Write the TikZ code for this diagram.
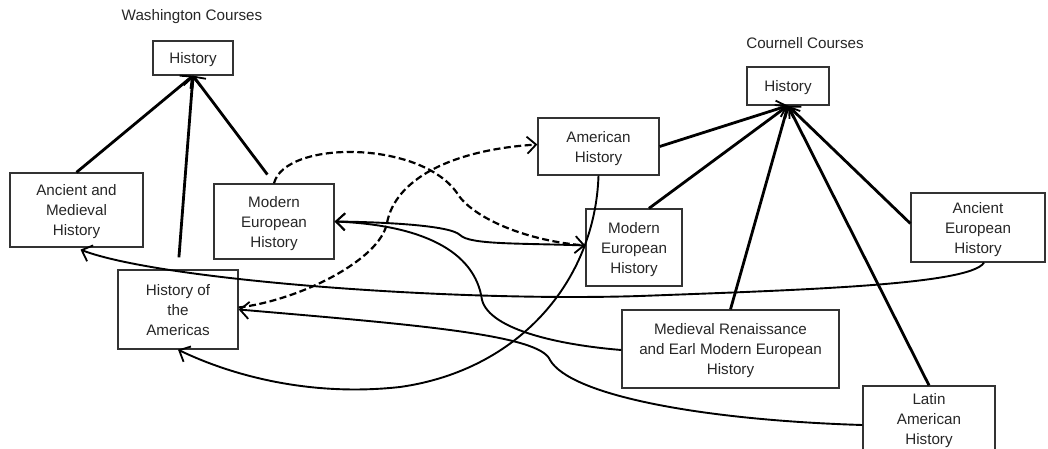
\documentclass[tikz,border=0pt]{standalone}
\usepackage{fontspec}
\setmainfont{Liberation Sans}
\usetikzlibrary{arrows.meta}
\begin{document}
\begin{tikzpicture}[x=1pt,y=-1pt,
  every node/.style={font=\fontsize{15.2}{20}\selectfont, text=black!85},
  course/.style={draw=black!80, line width=1.3pt, inner sep=0pt, align=center, text depth=0pt},
  title/.style={inner sep=0pt},
  tip/.style={-{Straight Barb[length=9pt,width=17pt,line width=1.8pt]}},
  strong/.style={tip, line width=2.8pt},
  curvy/.style={tip, line width=1.9pt},
  dashy/.style={tip, line width=2.2pt, dash pattern=on 7pt off 3.5pt}]
\useasboundingbox (0,0) rectangle (1048,449);
\clip (0,0) rectangle (1048,449);
% titles
\node[title] (wt) at (192,17) {Washington Courses};
\node[title] (ct) at (805,43) {Cournell Courses};
% Washington nodes
\node[course, minimum width=80pt, minimum height=34pt] (wh) at (193,58) {History};
\node[course, minimum width=133pt, minimum height=74pt] (amh) at (76.5,210) {Ancient and\\Medieval\\History};
\node[course, minimum width=120pt, minimum height=75pt] (wmeh) at (274,221.5) {Modern\\European\\History};
\node[course, minimum width=120pt, minimum height=79pt] (hota) at (178,309.5) {History of\\the\\Americas};
% Cournell nodes
\node[course, minimum width=82pt, minimum height=38pt] (ch) at (788,86) {History};
\node[course, minimum width=121pt, minimum height=57pt] (cah) at (598.5,146.5) {American\\History};
\node[course, minimum width=96pt, minimum height=77pt] (cmeh) at (634,247.5) {Modern\\European\\History};
\node[course, minimum width=134pt, minimum height=69pt] (aeh) at (978,227.5) {Ancient\\European\\History};
\node[course, minimum width=217pt, minimum height=78pt] (mr) at (730.5,349) {Medieval Renaissance\\and Earl Modern European\\History};
\node[course, minimum width=132pt, minimum height=78pt, text depth=12pt] (lah) at (929,425) {Latin\\American\\History};
% Washington hierarchy
\draw[strong] (amh.north) -- (wh.south);
\draw[strong, shorten <=12pt] (hota.north) -- (wh.south);
\draw[strong, shorten <=11pt] (wmeh.north) -- (wh.south);
% Cournell hierarchy
\draw[strong] (cah.east) -- (ch.south);
\draw[strong] ([xshift=15pt]cmeh.north) -- (ch.south);
\draw[strong] (mr.north) -- (ch.south);
\draw[strong] (lah.north) -- (ch.south);
\draw[strong] ([yshift=4pt]aeh.west) -- (ch.south);
% dashed mappings
\draw[dashy] (wmeh.north) .. controls (285,140) and (420,140) .. (457,193)
   .. controls (470,215) and (520,240) .. ([yshift=2pt]cmeh.west);
\draw[dashy] ([yshift=2pt]hota.east) .. controls (300,300) and (380,260) .. (387,223)
   .. controls (395,180) and (450,150) .. ([yshift=2pt]cah.west);
% solid mappings
\draw[curvy] ([yshift=2pt]cmeh.west) .. controls (520,243) and (470,245) .. (460,235)
   .. controls (450,225) and (380,222) .. (wmeh.east);
\draw[curvy] ([yshift=-1pt]mr.west) .. controls (560,345) and (490,330) .. (482,300)
   .. controls (475,250) and (420,225) .. (wmeh.east);
\draw[curvy] (cah.south) .. controls (595,280) and (520,370) .. (400,387)
   .. controls (300,398) and (220,370) .. (hota.south);
\draw[curvy] ([xshift=6pt]aeh.south) .. controls (970,285) and (800,290) .. (640,296)
   .. controls (450,302) and (160,280) .. ([xshift=4pt,yshift=-2pt]amh.south);
\draw[curvy] (lah.west) .. controls (700,420) and (570,395) .. (550,360)
   .. controls (540,335) and (420,325) .. (hota.east);
\end{tikzpicture}
\end{document}
